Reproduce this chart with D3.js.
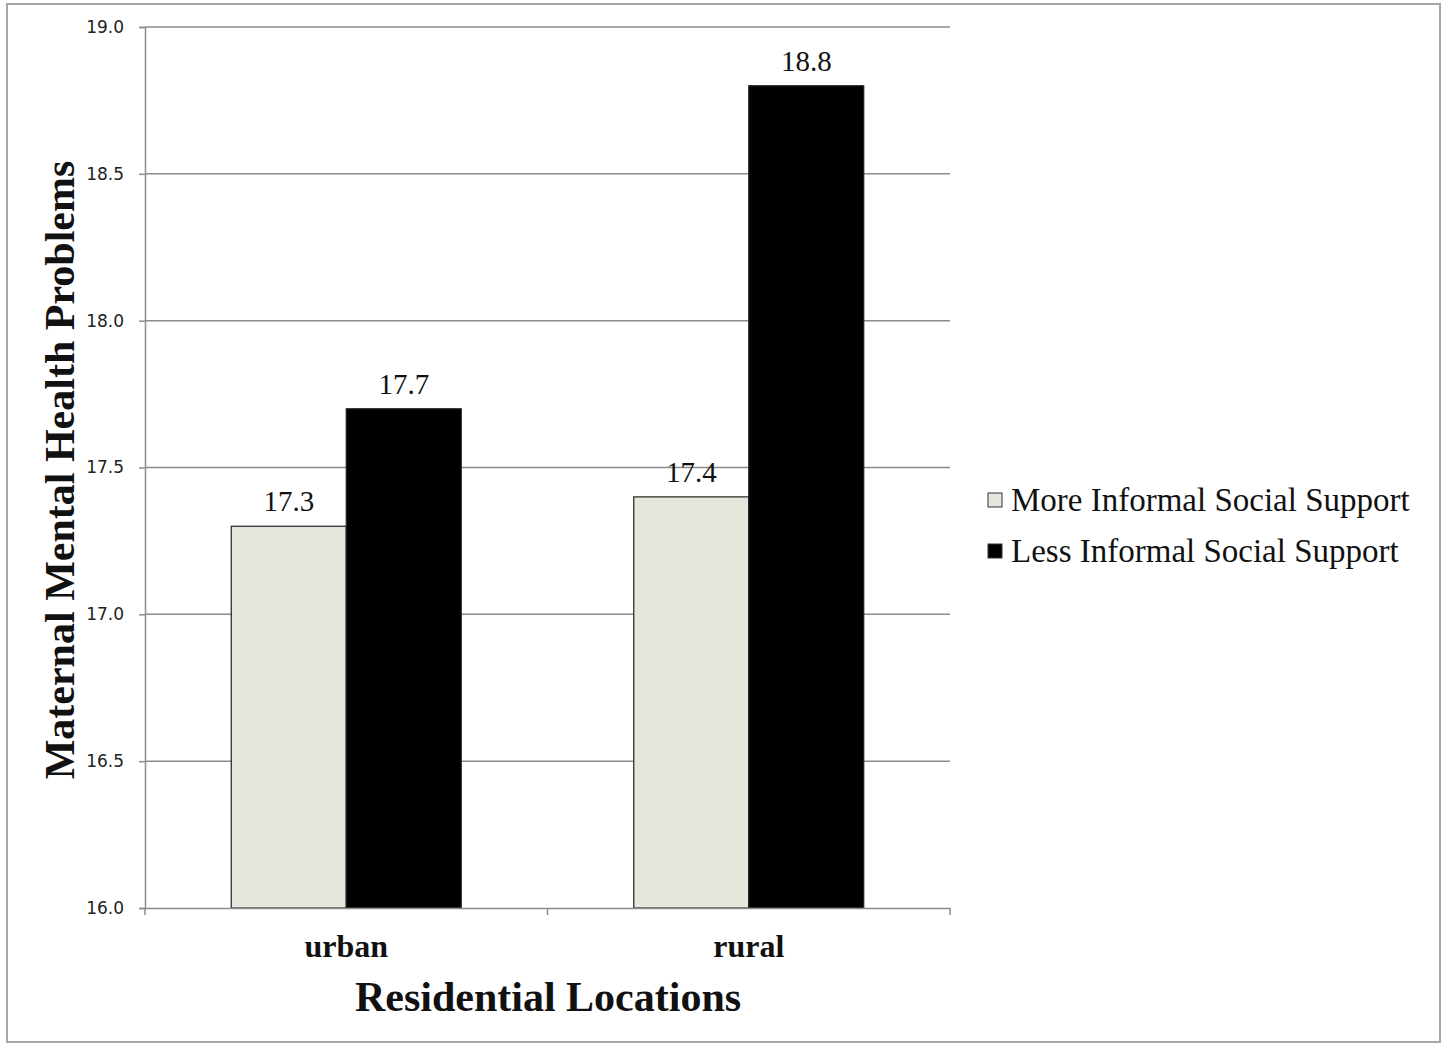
<!DOCTYPE html>
<html>
<head>
<meta charset="utf-8">
<script src="https://cdn.jsdelivr.net/npm/d3@7/dist/d3.min.js"></script>
<style>
  html, body { margin: 0; padding: 0; background: #fff; }
  svg { display: block; }
</style>
</head>
<body>
<script>
// Residential location categories and the two support groups
const categories = ["urban", "rural"];
const seriesNames = ["More Informal Social Support", "Less Informal Social Support"];
const moreSupport = [17.3, 17.4];
const lessSupport = [17.7, 18.8];
const yTicks = [16.0, 16.5, 17.0, 17.5, 18.0, 18.5, 19.0];

const W = 1449, H = 1046;
const plot = { left: 145, right: 950, top: 27, bottom: 908 };
const fills = ["#e6e6dc", "#000000"];
const serif = "Liberation Serif, Times New Roman, serif";

const svg = d3.select("body").append("svg").attr("width", W).attr("height", H);

// outer chart frame
svg.append("rect")
  .attr("x", 7).attr("y", 4).attr("width", 1433).attr("height", 1038)
  .attr("fill", "#fff").attr("stroke", "#a6a6a6").attr("stroke-width", 2);

const y = d3.scaleLinear().domain([16, 19]).range([plot.bottom, plot.top]);
const x0 = d3.scaleBand().domain(categories).range([plot.left, plot.right]).paddingInner(0).paddingOuter(0);
// each group: two bars with a 1.5-bar gap split around them
const barW = x0.bandwidth() / 3.5;

// horizontal gridlines
svg.append("g").selectAll("line").data(yTicks.filter(t => t > 16)).join("line")
  .attr("x1", plot.left).attr("x2", plot.right)
  .attr("y1", d => y(d)).attr("y2", d => y(d))
  .attr("stroke", "#8c8c8c").attr("stroke-width", 1.5);

// y axis
const yAxis = svg.append("g").attr("transform", `translate(${plot.left},0)`)
  .call(d3.axisLeft(y).tickValues(yTicks).tickFormat(d3.format(".1f")).tickSize(6).tickPadding(15));
yAxis.select(".domain").attr("stroke", "#8c8c8c").attr("stroke-width", 1.5);
yAxis.selectAll(".tick line").attr("stroke", "#8c8c8c").attr("stroke-width", 1.5);
yAxis.selectAll(".tick text")
  .attr("font-family", "DejaVu Sans, sans-serif").attr("font-size", 17).attr("fill", "#222");

// bars
const rows = categories.map((c, i) => ({ cat: c, vals: [moreSupport[i], lessSupport[i]] }));
const groups = svg.append("g").selectAll("g").data(rows).join("g")
  .attr("transform", d => `translate(${x0(d.cat) + barW * 0.75},0)`);

groups.selectAll("rect").data(d => d.vals.map((v, k) => ({ v, k }))).join("rect")
  .attr("x", d => d.k * barW)
  .attr("y", d => y(d.v))
  .attr("width", barW)
  .attr("height", d => y(16) - y(d.v))
  .attr("fill", d => fills[d.k])
  .attr("stroke", "#222").attr("stroke-width", 1.2);

groups.selectAll("text").data(d => d.vals.map((v, k) => ({ v, k }))).join("text")
  .attr("x", d => d.k * barW + barW / 2)
  .attr("y", d => y(d.v) - 15)
  .attr("text-anchor", "middle")
  .attr("font-family", serif).attr("font-size", 29).attr("fill", "#111")
  .text(d => d3.format(".1f")(d.v));

// x axis
const xAxis = svg.append("g").attr("transform", `translate(0,${plot.bottom})`)
  .call(d3.axisBottom(x0).tickSize(0).tickPadding(0).tickFormat(""));
xAxis.select(".domain").attr("stroke", "#8c8c8c").attr("stroke-width", 1.5);
xAxis.selectAll(".tick").remove();
svg.append("g").selectAll("line")
  .data([plot.left, x0("rural"), plot.right]).join("line")
  .attr("x1", d => d).attr("x2", d => d)
  .attr("y1", plot.bottom).attr("y2", plot.bottom + 7)
  .attr("stroke", "#8c8c8c").attr("stroke-width", 1.5);

svg.append("g").selectAll("text").data(categories).join("text")
  .attr("x", d => x0(d) + x0.bandwidth() / 2)
  .attr("y", 957)
  .attr("text-anchor", "middle")
  .attr("font-family", serif).attr("font-weight", "bold")
  .attr("font-size", 32).attr("fill", "#111")
  .text(d => d);

// axis titles
svg.append("text")
  .attr("x", 548).attr("y", 1011)
  .attr("text-anchor", "middle")
  .attr("font-family", serif).attr("font-weight", "bold")
  .attr("font-size", 42).attr("fill", "#111")
  .text("Residential Locations");

svg.append("text")
  .attr("transform", "translate(74,470) rotate(-90)")
  .attr("text-anchor", "middle")
  .attr("font-family", serif).attr("font-weight", "bold")
  .attr("font-size", 42).attr("fill", "#111")
  .text("Maternal Mental Health Problems");

// legend
const legend = svg.append("g").selectAll("g").data(seriesNames).join("g")
  .attr("transform", (d, i) => `translate(988,${493 + i * 51})`);
legend.append("rect")
  .attr("width", 14).attr("height", 14)
  .attr("fill", (d, i) => fills[i]).attr("stroke", "#333").attr("stroke-width", 1);
legend.append("text")
  .attr("x", 23).attr("y", 18)
  .attr("font-family", serif).attr("font-size", 33).attr("fill", "#111")
  .text(d => d);
</script>
</body>
</html>
